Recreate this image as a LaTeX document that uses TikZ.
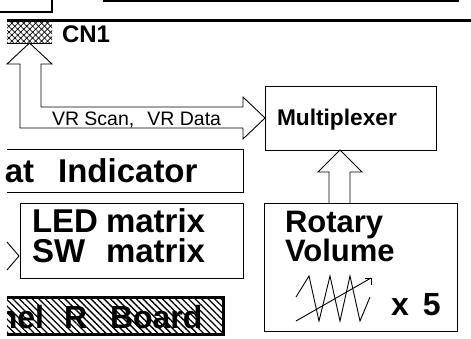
\documentclass[tikz,border=0pt]{standalone}
\usepackage{fontspec}
\setmainfont{Liberation Sans}
\usetikzlibrary{patterns.meta,calc}
\begin{document}
\begin{tikzpicture}[x=1pt,y=-1pt,
  wire/.style={line width=0.9pt, line join=miter},
  box/.style={draw, line width=1pt, rectangle, inner sep=0pt, outer sep=0pt},
  lbl/.style={inner sep=0pt, outer sep=0pt, font=\bfseries\fontsize{#1}{#1}\selectfont},
  plain/.style={inner sep=0pt, outer sep=0pt, font=\fontsize{#1}{#1}\selectfont},
]
\useasboundingbox (0,0) rectangle (471,338);
\clip (0,0) rectangle (471,338);

% edges of the boards above
\draw[line width=2pt] (0,12) -- (52,12) -- (52,-5);
\draw[line width=1.8pt] (104,-5) -- (104,1) -- (458,1) -- (458,-5);
\draw[line width=3pt] (7,20) -- (471,20);

% connector CN1
\node[rectangle, inner sep=0pt, outer sep=0pt, minimum width=45pt, minimum height=21pt,
      anchor=north west, pattern={Lines[angle=45,distance=4.2pt,line width=0.7pt]}] (cn1) at (7,22) {};
\path[pattern={Lines[angle=-45,distance=4.2pt,line width=0.7pt]}] (cn1.north west) rectangle (cn1.south east);
\draw[line width=1pt] (cn1.south west) -- (cn1.south east);
\node[lbl=24, anchor=base west] (cn1lbl) at (62,42) {CN1};

% multiplexer
\node[box, minimum width=171pt, minimum height=64pt] (mux) at (350.5,118) {};
\node[lbl=22.7, anchor=base west] (muxlbl) at (277,125) {Multiplexer};

% hollow bus arrow between CN1 and the multiplexer
\draw[wire] (20,64) -- (20,128) -- (243,128) -- (243,139) -- (mux.west)
  -- (243,97) -- (243,107) -- (41,107) -- (41,64) -- (52,64) -- (cn1.south)
  -- (7,64) -- cycle;
\node[plain=19.5, anchor=base west] (vrlbl) at (52,125) {VR Scan,\hspace{13pt}VR Data};

% indicator board (left part out of view)
\draw[line width=1pt] (7,149) -- (243,149) -- (243,192) -- (7,192);
\node[lbl=33, anchor=base east] (indlbl) at (197.5,182) {at\hspace{24pt}Indicator};

% LED / switch matrix
\node[box, minimum width=223pt, minimum height=75pt] (led) at (131.5,240.5) {};
\node[lbl=33, anchor=base west] (ledA) at (32,232) {LED};
\node[lbl=33, anchor=base west] (ledB) at (106,232) {matrix};
\node[lbl=33, anchor=base west] (swA) at (32,262) {SW};
\node[lbl=33, anchor=base west] (swB) at (106,262) {matrix};
\coordinate (ledin) at ($(led.west)+(-1,15.5)$);
\draw[wire] (7,242) -- (ledin) -- (7,270);

% hatched board label
\path[pattern={Lines[angle=-45,distance=4.6pt,line width=1.3pt]}] (7,297) rectangle (223,334);
\begin{scope}
  \clip (7,297) rectangle (223,334);
  \node[lbl=32, anchor=base east] (brdA) at (44,328) {nel};
  \node[lbl=32, anchor=base west] (brdB) at (64,328) {R};
  \node[lbl=32, anchor=base west] (brdC) at (110,328) {Board};
\end{scope}
\draw[line width=3pt] (7,297) -- (223,297) -- (223,334) -- (7,334);

% rotary volumes
\node[box, minimum width=193pt, minimum height=128pt] (rot) at (360.5,267) {};
\node[lbl=31, anchor=base west] (rotA) at (285,232) {Rotary};
\node[lbl=31, anchor=base west] (rotB) at (285,261) {Volume};
\node[lbl=32, anchor=base west] (times) at (391,315) {x\hspace{14pt}5};

% hollow arrow from the volumes up to the multiplexer
\coordinate (uptip) at ($(mux.south)+(-10.5,0)$);
\draw[wire] (329,203) -- (329,172) -- (318,172) -- (uptip) -- (362,172) -- (350,172) -- (350,203);

% variable resistor symbol
\draw[line width=0.9pt, line join=miter] (296,297) -- (309,276) -- (319,321) -- (330,276)
  -- (340,321) -- (350,276) -- (360,321) -- (370,297);
\draw[line width=0.9pt] (296,321) -- (371,278);
\draw[line width=0.9pt] (365,278) -- (371,278) -- (371,285);
\end{tikzpicture}
\end{document}
